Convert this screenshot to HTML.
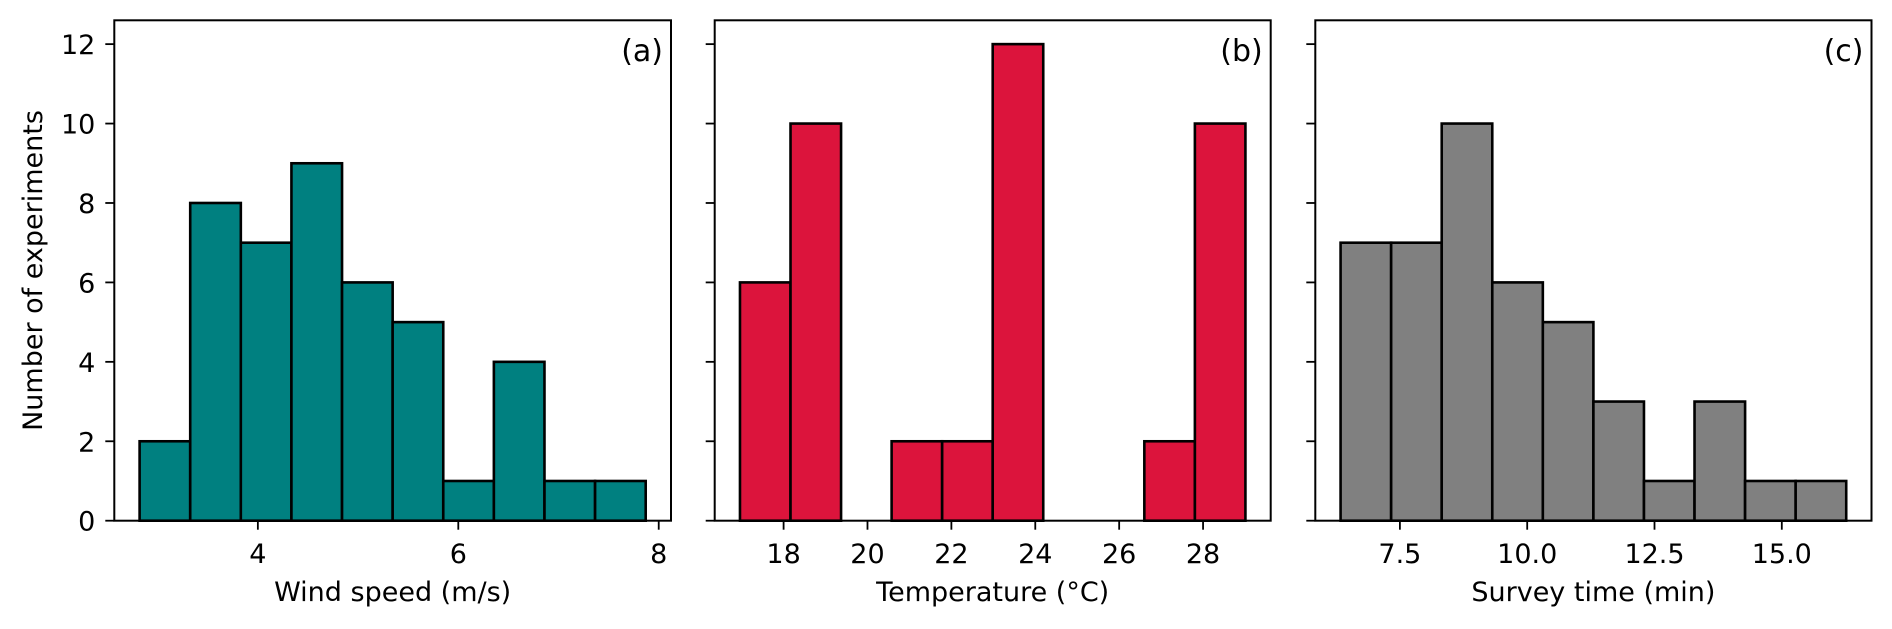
<!DOCTYPE html>
<html><head><meta charset="utf-8">
<style>
html,body{margin:0;padding:0;background:#fff;}
svg{display:block;font-family:"DejaVu Sans","Liberation Sans",sans-serif;}
</style></head>
<body>
<svg id="chart" width="1892" height="629" viewBox="0 0 1892 629" xmlns="http://www.w3.org/2000/svg"></svg>
<script>
// ---- data ----
const windCounts = [2, 8, 7, 9, 6, 5, 1, 4, 1, 1];
const windRange = [2.82, 7.87];
const windTicks = [4, 6, 8];

const tempCounts = [6, 10, 0, 2, 2, 12, 0, 0, 2, 10];
const tempRange = [16.96, 29.01];
const tempTicks = [18, 20, 22, 24, 26, 28];

const timeCounts = [7, 7, 10, 6, 5, 3, 1, 3, 1, 1];
const timeRange = [6.335, 16.265];
const timeTicks = [7.5, 10.0, 12.5, 15.0];
const timeTickLabels = ["7.5", "10.0", "12.5", "15.0"];

const yTicks = [0, 2, 4, 6, 8, 10, 12];

const NS = "http://www.w3.org/2000/svg";
const svg = document.getElementById("chart");
function el(tag, attrs, parent){
  const e = document.createElementNS(NS, tag);
  for (const k in attrs) e.setAttribute(k, attrs[k]);
  (parent || svg).appendChild(e);
  return e;
}

const TOP = 20.3, BOTTOM = 520.7, YMAX = 12.6;
function yScale(v){ return BOTTOM - v / YMAX * (BOTTOM - TOP); }

function panel(cfg){
  const g = el("g", {});
  
  
  const [lo, hi] = cfg.range;
  const pad = (hi - lo) * 0.05;
  const x0 = lo - pad, x1 = hi + pad;
  const xs = v => cfg.left + (v - x0) / (x1 - x0) * (cfg.right - cfg.left);
  const n = cfg.counts.length, w = (hi - lo) / n;
  cfg.counts.forEach((c, i) => {
    if (c <= 0) return;
    const a = xs(lo + i * w), b = xs(lo + (i + 1) * w);
    const r = el("rect", {x: a, y: yScale(c), width: b - a, height: BOTTOM - yScale(c),
      fill: cfg.color, stroke: "#000", "stroke-width": 2.6}, g);
    
    
  });
  const f = el("rect", {x: cfg.left, y: TOP, width: cfg.right - cfg.left, height: BOTTOM - TOP,
    fill: "none", stroke: "#000", "stroke-width": 2}, g);
  
  
  yTicks.forEach(t => {
    const y = yScale(t);
    el("line", {x1: cfg.left - 9, x2: cfg.left, y1: y, y2: y, stroke: "#000", "stroke-width": 1.8}, g);
    if (cfg.yLabels) {
      const tx = el("text", {x: cfg.left - 19, y: y + 10, "text-anchor": "end", "font-size": 27, fill: "#000"}, g);
      tx.textContent = String(t);
      
      
    }
  });
  cfg.ticks.forEach((t, i) => {
    const x = xs(t);
    el("line", {x1: x, x2: x, y1: BOTTOM, y2: BOTTOM + 9, stroke: "#000", "stroke-width": 1.8}, g);
    const tx = el("text", {x: x, y: 563, "text-anchor": "middle", "font-size": 27, fill: "#000"}, g);
    tx.textContent = cfg.tickLabels ? cfg.tickLabels[i] : String(t);
    
    
  });
  const xl = el("text", {x: (cfg.left + cfg.right) / 2, y: 601, "text-anchor": "middle", "font-size": 27, fill: "#000"}, g);
  xl.textContent = cfg.xlabel;
  
  
  const pl = el("text", {x: cfg.right - 8, y: 61, "text-anchor": "end", "font-size": 30, fill: "#000"}, g);
  pl.textContent = cfg.tag;
  
  
}

panel({name: "wind-panel", left: 114.3, right: 671, counts: windCounts, range: windRange,
  ticks: windTicks, color: "#008080", xlabel: "Wind speed (m/s)", tag: "(a)", yLabels: true});
panel({name: "temperature-panel", left: 714.7, right: 1270.7, counts: tempCounts, range: tempRange,
  ticks: tempTicks, color: "#DC143C", xlabel: "Temperature (°C)", tag: "(b)", yLabels: false});
panel({name: "survey-time-panel", left: 1315.3, right: 1871.5, counts: timeCounts, range: timeRange,
  ticks: timeTicks, tickLabels: timeTickLabels, color: "#808080", xlabel: "Survey time (min)", tag: "(c)", yLabels: false});

const yl = el("text", {x: 0, y: 0, "text-anchor": "middle", "font-size": 27, fill: "#000",
  transform: "translate(42,270.5) rotate(-90)"});
yl.textContent = "Number of experiments";


</script>
</body></html>
